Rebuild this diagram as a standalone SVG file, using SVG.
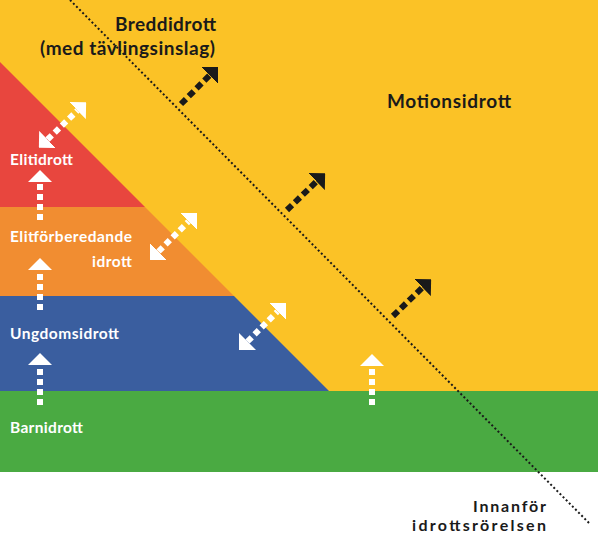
<svg xmlns="http://www.w3.org/2000/svg" width="598" height="534" viewBox="0 0 598 534">
<style>
.lbl{font-family:Lato,"Liberation Sans",sans-serif;font-weight:700}
.dark{fill:#1a1a1a;font-size:19px}
.foot{fill:#1a1a1a;font-size:16px}
.white{fill:#ffffff;font-size:15.5px}
.wshaft{fill:none;stroke:#ffffff;stroke-width:6;stroke-dasharray:6 4}
.bshaft{fill:none;stroke:#1a1a1a;stroke-width:6;stroke-dasharray:7 4}
.border{fill:none;stroke:#1a1a1a;stroke-width:2;stroke-dasharray:2 2.4}
</style>
<defs>
<marker id="hw" markerUnits="userSpaceOnUse" viewBox="0 -12 12 24" markerWidth="12" markerHeight="24" refX="0" refY="0" orient="auto-start-reverse"><path d="M0,-12 L12,0 L0,12 Z" fill="#ffffff"/></marker>
<marker id="hb" markerUnits="userSpaceOnUse" viewBox="0 -12 12 24" markerWidth="12" markerHeight="24" refX="0" refY="0" orient="auto"><path d="M0,-12 L12,0 L0,12 Z" fill="#1a1a1a"/></marker>
</defs>
<rect width="598" height="534" fill="#ffffff"/>
<g id="motionsidrott">
<rect x="0" y="0" width="598" height="391" fill="#FBC226"/>
<text class="lbl dark" x="387" y="108" textLength="124" lengthAdjust="spacing">Motionsidrott</text>
</g>
<g id="breddidrott">
<text class="lbl dark" x="115" y="31" textLength="101" lengthAdjust="spacing">Breddidrott</text>
<text class="lbl dark" x="40" y="55" textLength="175" lengthAdjust="spacing">(med tävlingsinslag)</text>
</g>
<g id="barnidrott">
<rect x="0" y="391" width="598" height="81" fill="#4AAA42"/>
<text class="lbl white" x="10" y="433" textLength="73" lengthAdjust="spacing">Barnidrott</text>
</g>
<g id="ungdomsidrott">
<polygon points="0,296 234,296 329,391 0,391" fill="#3A5E9F"/>
<text class="lbl white" x="10" y="339" textLength="109" lengthAdjust="spacing">Ungdomsidrott</text>
</g>
<g id="elitforberedande">
<polygon points="0,207 145,207 234,296 0,296" fill="#F18D31"/>
<text class="lbl white" x="10" y="242" textLength="122" lengthAdjust="spacing">Elitförberedande</text>
<text class="lbl white" x="92" y="267" textLength="40" lengthAdjust="spacing">idrott</text>
</g>
<g id="elitidrott">
<polygon points="0,62 145,207 0,207" fill="#E8463E"/>
<text class="lbl white" x="10" y="165" textLength="63" lengthAdjust="spacing">Elitidrott</text>
</g>
<g id="innanfor">
<text class="lbl foot" x="473" y="512" textLength="73" lengthAdjust="spacing">Innanför</text>
<text class="lbl foot" x="412" y="531" textLength="134" lengthAdjust="spacing">idrottsrörelsen</text>
</g>
<g id="connectors">
<line class="border" x1="70" y1="0" x2="590" y2="524"/>
<path class="wshaft" d="M40,220 L40,182" marker-end="url(#hw)"/>
<path class="wshaft" d="M40,310 L40,270" marker-end="url(#hw)"/>
<path class="wshaft" d="M40,405 L40,365" marker-end="url(#hw)"/>
<path class="wshaft" d="M372,405 L372,366" marker-end="url(#hw)"/>
<path class="wshaft" d="M47.5,139.5 L77.5,110.5" marker-start="url(#hw)" marker-end="url(#hw)"/>
<path class="wshaft" d="M158.5,251.5 L188.5,221.5" marker-start="url(#hw)" marker-end="url(#hw)"/>
<path class="wshaft" d="M247.5,341.5 L277.5,311.5" marker-start="url(#hw)" marker-end="url(#hw)"/>
<path class="bshaft" d="M181,104 L209.5,75.5" marker-end="url(#hb)"/>
<path class="bshaft" d="M287,210 L316.5,181.5" marker-end="url(#hb)"/>
<path class="bshaft" d="M393,316 L422.5,287.5" marker-end="url(#hb)"/>
</g>
</svg>
